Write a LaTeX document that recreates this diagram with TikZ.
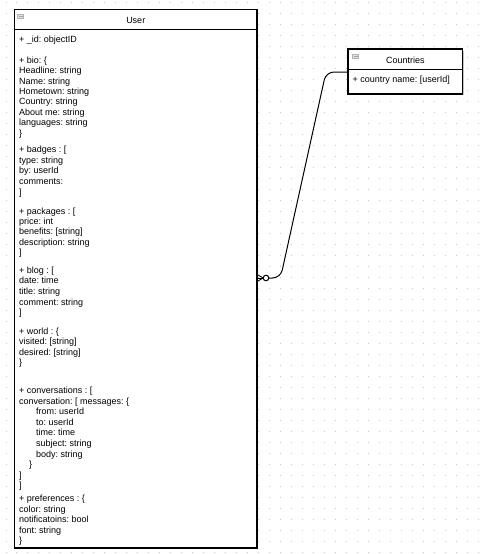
\documentclass[tikz,border=0pt]{standalone}
\usepackage{fontspec}
\setmainfont{Liberation Sans}
\frenchspacing
\usetikzlibrary{positioning}
\begin{document}
\begin{tikzpicture}[x=1pt,y=-1pt,
  box/.style={draw=black,line width=1.2pt,fill=white,inner sep=0pt,outer sep=0pt,anchor=north west},
  shade/.style={fill=gray!45,draw=none},
  head/.style={inner sep=0pt,outer sep=0pt,font=\fontsize{9}{10}\selectfont},
  field/.style={anchor=base west,inner sep=0pt,font=\fontsize{9}{10}\selectfont},
  rel/.style={draw=black,line width=1pt,rounded corners=8pt}]
\useasboundingbox (0,0) rectangle (483,554);
\fill[white] (0,0) rectangle (483,554);

% background grid
\foreach \i in {0,...,43}
  \foreach \j in {0,...,50}
    \fill[gray!45] (5.5+10.99*\i,2.2+10.99*\j) rectangle ++(1,1);

% User table
\fill[shade] (16,11) rectangle (258.3,549.3);
\node[box,minimum width=242.5pt,minimum height=538.5pt] (user) at (14.5,9.5) {};
\node[head,minimum width=242.5pt,minimum height=20pt,anchor=north west] (userhead) at (user.north west) {};
\draw[line width=1pt] (userhead.south west) -- (userhead.south east);
\node[head,yshift=-1pt] (usertitle) at (userhead.center) {User};
\filldraw[fill=gray!25,draw=gray!60] (17.5,13.8) rectangle (23.5,18.5);
\draw[gray!70] (18.5,16.2) -- (22.5,16.2);

\foreach \x/\y/\t [count=\n] in {
    19/42.3/{+ \_id: objectID},
    19/63.3/{+ bio: \{},
    19/73.6/{Headline: string},
    19/84/{Name: string},
    19/94.4/{Hometown: string},
    19/104.9/{Country: string},
    19/115.3/{About me: string},
    19/125.8/{languages: string},
    19/136.3/{\}},
    19/152.6/{+ badges : [},
    19/163.2/{type: string},
    19/173.8/{by: userId},
    19/184.4/{comments:},
    19/195/{]},
    19/214.3/{+ packages : [},
    19/224.6/{price: int},
    19/234.9/{benefits: [string]},
    19/245.2/{description: string},
    19/255.5/{]},
    19/273.3/{+ blog : [},
    19/283.9/{date: time},
    19/294.5/{title: string},
    19/305.1/{comment: string},
    19/315.7/{]},
    19/334.3/{+ world : \{},
    19/344.7/{visited: [string]},
    19/355.1/{desired: [string]},
    19/365.5/{\}},
    19/393.3/{+ conversations : [},
    19/404/{conversation: [ messages: \{},
    36/414.6/{from: userId},
    36/425.2/{to: userId},
    36/435.8/{time: time},
    36/446.4/{subject: string},
    36/457/{body: string},
    29/467.6/{\}},
    19/478.2/{]},
    19/488.8/{]},
    19/501.3/{+ preferences : \{},
    19/512/{color: string},
    19/522.6/{notificatoins: bool},
    19/533.2/{font: string},
    19/543.8/{\}}}
  {
    \node[field] (u\n) at (\x,\y) {\t};
  }

% Countries table
\fill[shade] (349.5,50.5) rectangle (464,95.3);
\node[box,minimum width=114.7pt,minimum height=45pt] (countries) at (348,49) {};
\node[head,minimum width=114.7pt,minimum height=20pt,anchor=north west] (countrieshead) at (countries.north west) {};
\draw[line width=1pt] (countrieshead.south west) -- (countrieshead.south east);
\node[head,yshift=-1pt] (countriestitle) at (countrieshead.center) {Countries};
\filldraw[fill=gray!25,draw=gray!60] (352.5,53.8) rectangle (358.5,58.5);
\draw[gray!70] (353.5,56.2) -- (357.5,56.2);
\node[field] (c1) at (352.5,82.6) {+ country name: [userId]};

% relation, zero or many on the User side
\coordinate (cin) at (countries.west |- 0,72);
\coordinate (uout) at (user.east |- 0,278);
\coordinate (ring) at (266,278);
\draw[rel] (cin) -- (326,72) -- (280.5,278) -- (269,278);
\draw[line width=1pt,fill=white] (ring) circle (2.8);
\draw[line width=0.9pt] (263.2,278) -- (uout);
\draw[line width=0.9pt] (263.2,278) -- (user.east |- 0,274.5);
\draw[line width=0.9pt] (263.2,278) -- (user.east |- 0,281.5);
\end{tikzpicture}
\end{document}
